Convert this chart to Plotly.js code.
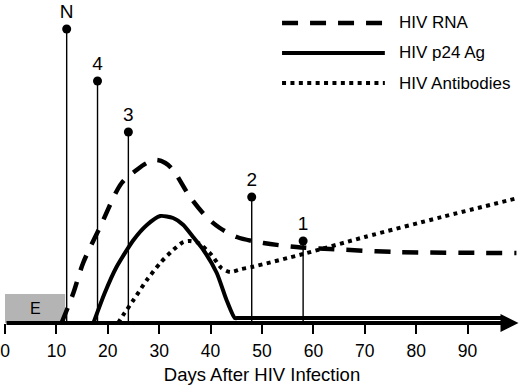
<!DOCTYPE html>
<html>
<head>
<meta charset="utf-8">
<script src="https://cdn.plot.ly/plotly-3.0.1.min.js"></script>
<style>html,body{margin:0;padding:0;background:#fff;}#chart{width:520px;height:388px;}</style>
</head>
<body>
<div id="chart"></div>
<script>
// ---- data ----
const seriesNames = ["HIV RNA", "HIV p24 Ag", "HIV Antibodies"];

const rnaDays = [11.0, 13.3, 15.2, 18.5, 22.7, 25.6, 27.6, 29.5, 31.2, 32.7, 36.0, 39.2, 41.8, 45.1, 50.3, 56.7, 63.2, 76.2, 99.5];
const rnaLevel = [0, 30, 60, 96, 140, 153, 160, 163, 160, 153, 126, 106, 95, 86, 80, 76, 74, 71, 70];

const p24Days = [17.2, 19.4, 21.7, 25.0, 27.6, 30.2, 32.7, 34.7, 36.6, 38.6, 41.2, 43.1, 44.7, 45.4, 96.6];
const p24Level = [0, 30, 56, 83, 98, 107, 105, 98, 86, 73, 50, 23, 5, 5, 5];

const abDays = [22.0, 23.0, 25.0, 27.6, 30.2, 32.7, 34.7, 36.0, 37.6, 40.2, 42.1, 43.8, 46.0, 48.0, 58.0, 70.0, 85.0, 99.8];
const abLevel = [0, 8, 23, 43, 60, 73, 81, 82, 80, 68, 55, 51, 54, 56, 69, 86, 106, 125];

const testLabels = ["N", "4", "3", "2", "1"];
const testDays = [12, 18, 24, 48, 58];
const testHeights = [294, 242, 191, 126, 82];

const eclipseLabel = "E";
const eclipseStart = 0;
const eclipseEnd = 11.7;
const eclipseHeight = 29;

const xTickVals = [0, 10, 20, 30, 40, 50, 60, 70, 80, 90];
const xTickText = ["0", "10", "20", "30", "40", "50", "60", "70", "80", "90"];
const xTitle = "Days After HIV Infection";

// ---- build ----
const FONT = "Liberation Sans, Arial, sans-serif";

const stemX = [], stemY = [];
testDays.forEach((d, i) => { stemX.push(d, d, null); stemY.push(-1, testHeights[i], null); });

const traces = [
  { x: rnaDays, y: rnaLevel, mode: "lines", line: { color: "#000", width: 4.5, dash: "16px,12px", shape: "spline", smoothing: 0.9 }, name: seriesNames[0], hoverinfo: "skip" },
  { x: p24Days, y: p24Level, mode: "lines", line: { color: "#000", width: 4, shape: "spline", smoothing: 0.6 }, name: seriesNames[1], hoverinfo: "skip" },
  { x: abDays, y: abLevel, mode: "lines", line: { color: "#000", width: 4, dash: "4px,4.4px", shape: "spline", smoothing: 0.7 }, name: seriesNames[2], hoverinfo: "skip" },
  { x: stemX, y: stemY, mode: "lines", line: { color: "#000", width: 1.4 }, hoverinfo: "skip" },
  { x: testDays, y: testHeights, mode: "markers+text", text: testLabels, textposition: "top center",
    textfont: { family: FONT, size: 19, color: "#000" }, marker: { color: "#000", size: 9 }, cliponaxis: false, hoverinfo: "skip" }
];

// legend drawn manually to match long line samples
const legY = [0.929, 0.836, 0.743];
const legDash = ["16px,12px", "solid", "4px,4.4px"];
const legW = [4.5, 4, 4];
const shapes = [
  { type: "rect", xref: "x", yref: "y", x0: eclipseStart, x1: eclipseEnd, y0: 0, y1: eclipseHeight,
    fillcolor: "#b4b4b4", line: { width: 0 }, layer: "below" }
];
const annotations = [
  { x: (eclipseStart + eclipseEnd) / 2, y: eclipseHeight / 2, xref: "x", yref: "y", text: eclipseLabel, showarrow: false,
    font: { family: FONT, size: 16, color: "#000" } },
  { x: 99.9, y: 0, ax: 0, ay: 0, xref: "x", yref: "y", axref: "x", ayref: "y", text: "", showarrow: true,
    arrowhead: 2, arrowsize: 0.9, arrowwidth: 4, arrowcolor: "#000", standoff: 0, startstandoff: 0 }
];
seriesNames.forEach((n, i) => {
  shapes.push({ type: "line", xref: "paper", yref: "paper", x0: 0.539, x1: 0.739, y0: legY[i], y1: legY[i],
    line: { color: "#000", width: legW[i], dash: legDash[i] } });
  annotations.push({ x: 0.763, y: legY[i], xref: "paper", yref: "paper", xanchor: "left", yanchor: "middle",
    text: n, showarrow: false, font: { family: FONT, size: 17, color: "#000" } });
});

const layout = {
  width: 520, height: 388,
  margin: { l: 5, r: 1, t: 0, b: 65 },
  paper_bgcolor: "#fff", plot_bgcolor: "#fff",
  showlegend: false,
  font: { family: FONT, color: "#000" },
  xaxis: {
    range: [0, 100], showgrid: false, zeroline: false, showline: false,
    tickmode: "array", tickvals: xTickVals, ticktext: xTickText,
    ticks: "outside", ticklen: 10, tickwidth: 2, tickcolor: "#000",
    tickfont: { family: FONT, size: 17.5, color: "#000" }, ticklabelstandoff: 2,
    title: { text: xTitle, font: { family: FONT, size: 18.5, color: "#000" }, standoff: 8 },
    fixedrange: true
  },
  yaxis: { range: [0, 323], visible: false, fixedrange: true },
  shapes: shapes,
  annotations: annotations
};

Plotly.newPlot("chart", traces, layout, { staticPlot: true, displayModeBar: false });
</script>
</body>
</html>
